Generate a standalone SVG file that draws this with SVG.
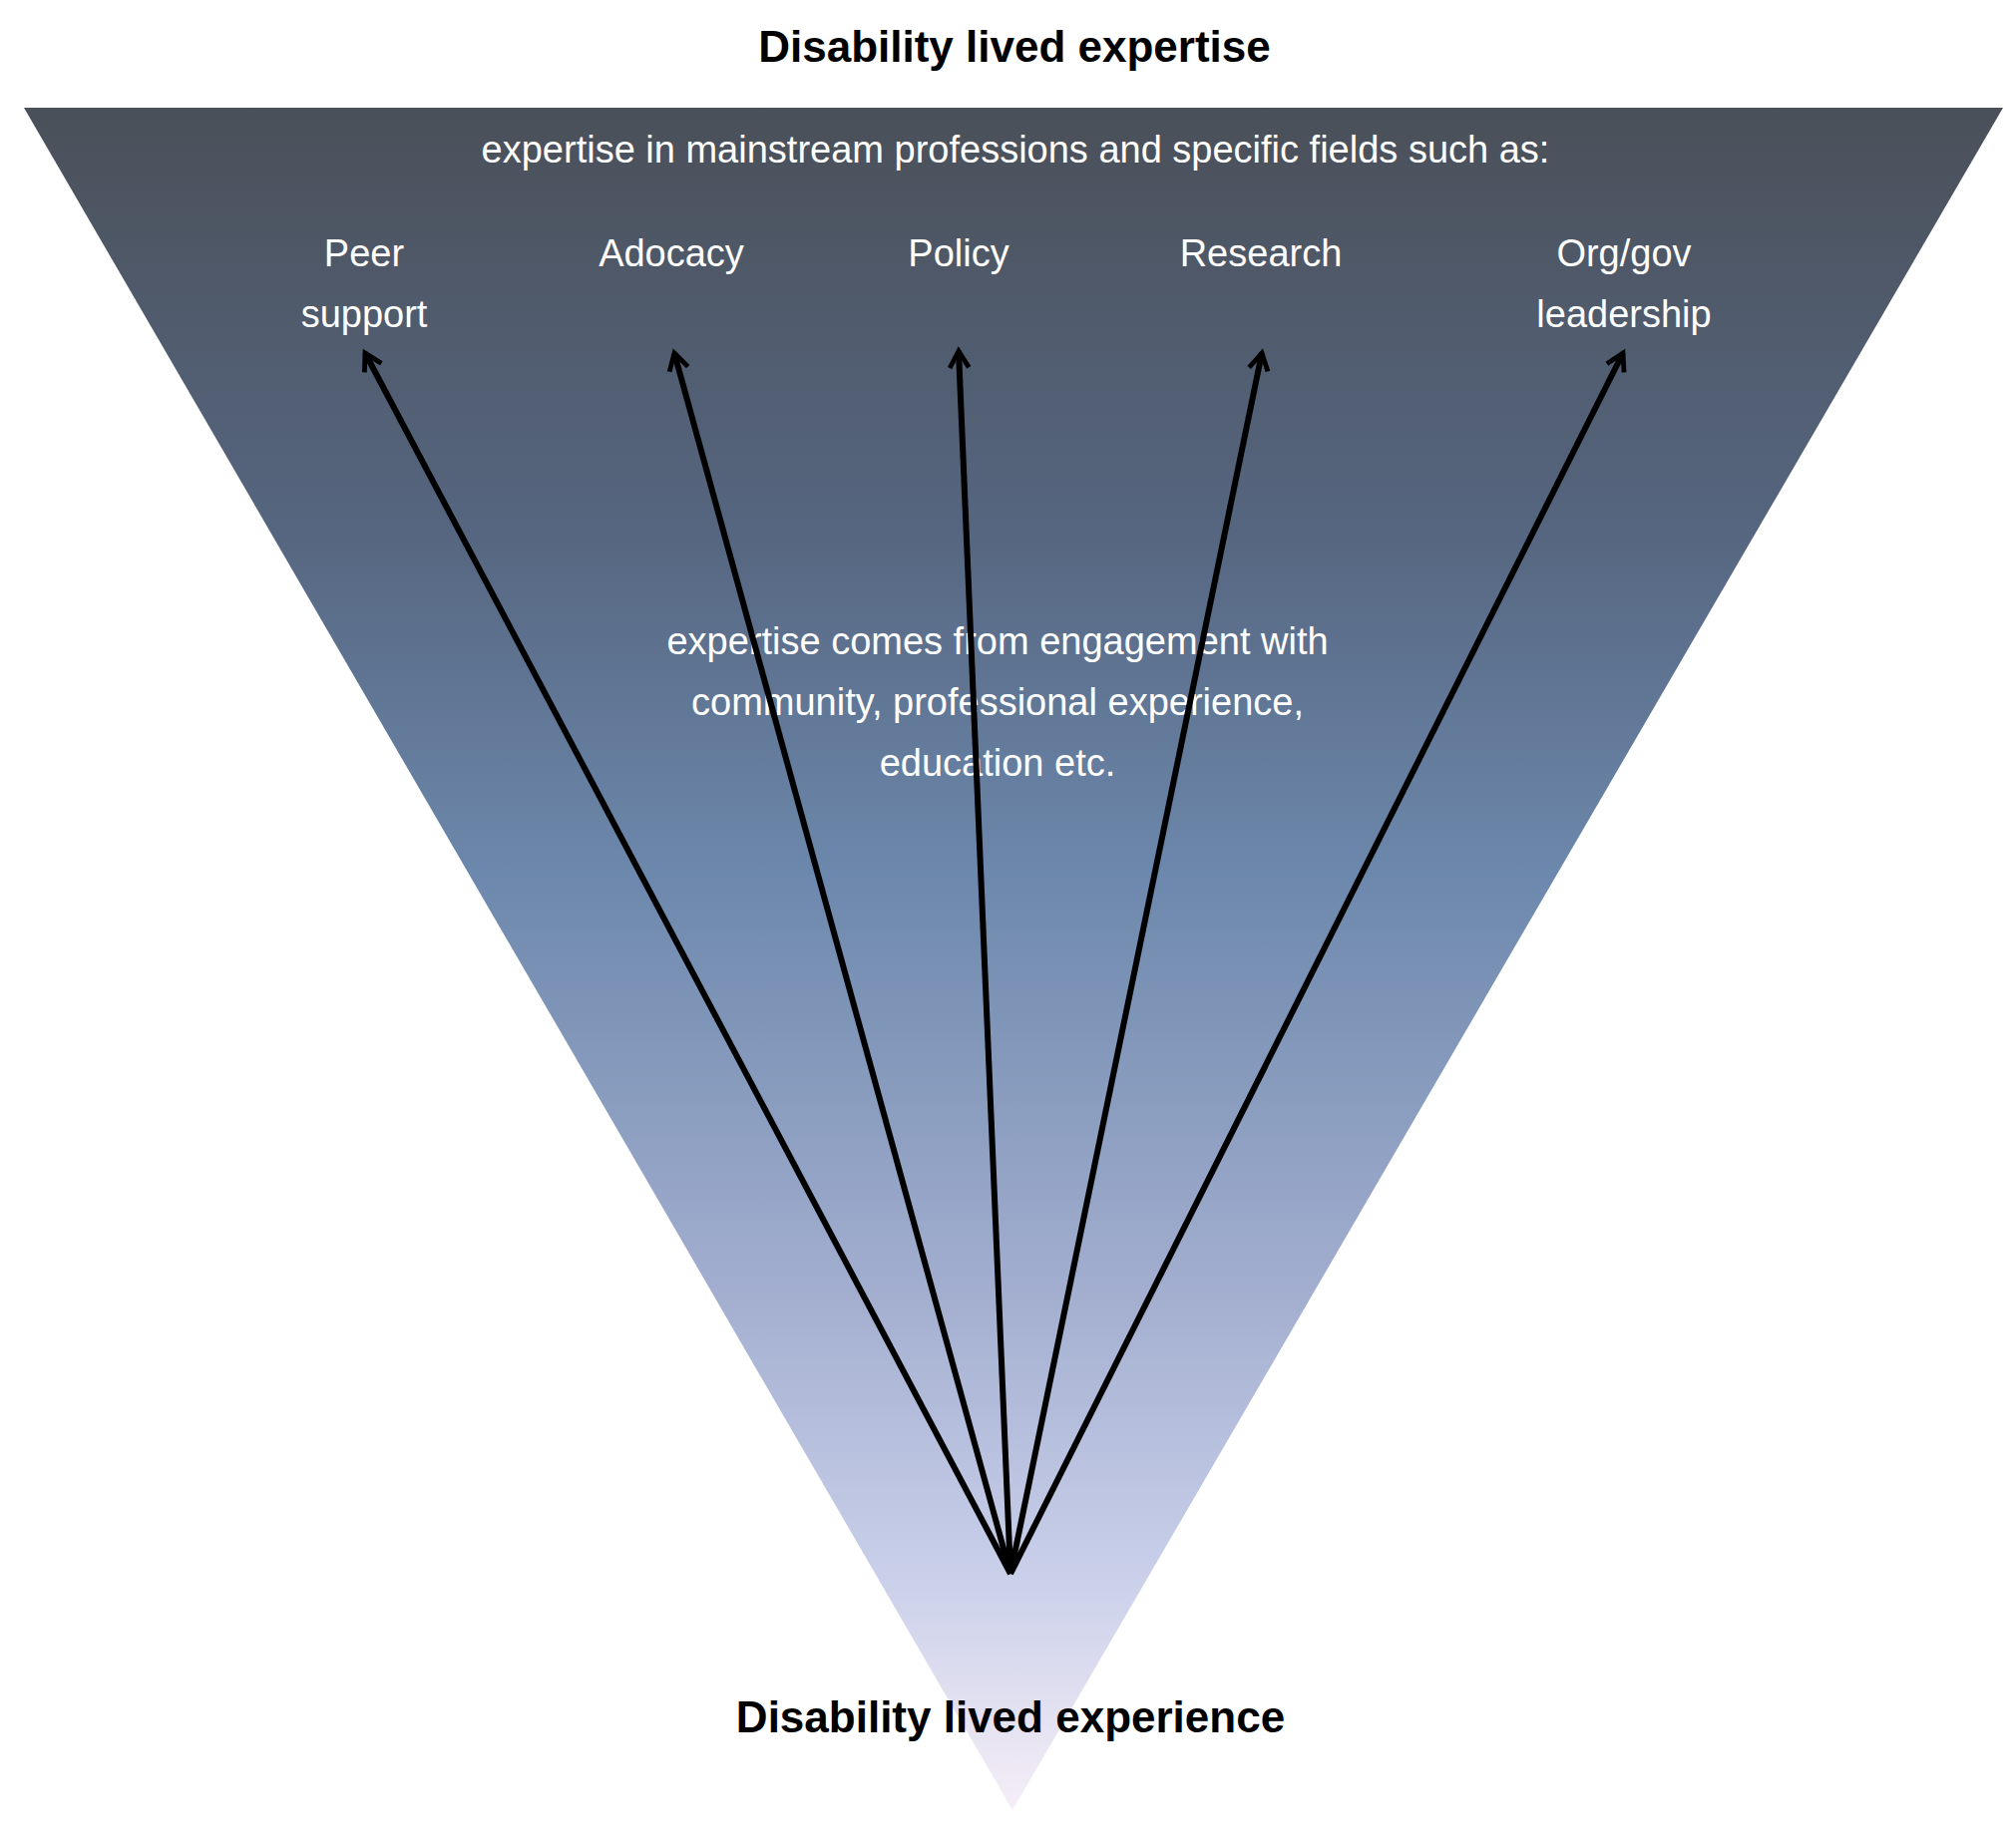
<svg xmlns="http://www.w3.org/2000/svg" width="2020" height="1853" viewBox="0 0 2020 1853">
<style>
.t{font-family:"Liberation Sans",Arial,sans-serif;font-size:44px;font-weight:bold;fill:#000;text-anchor:middle}
.w{font-family:"Liberation Sans",Arial,sans-serif;font-size:38px;fill:#fff;text-anchor:middle}
.c{stroke:#000;stroke-width:6;fill:none;marker-end:url(#ah)}
</style>
<defs>
<linearGradient id="g" x1="0" y1="108" x2="0" y2="1815" gradientUnits="userSpaceOnUse">
<stop offset="0" stop-color="#4a5059"/>
<stop offset="0.25" stop-color="#566680"/>
<stop offset="0.45" stop-color="#6c88ac"/>
<stop offset="0.7" stop-color="#a4afd0"/>
<stop offset="0.85" stop-color="#c6cde8"/>
<stop offset="1" stop-color="#f5eef7"/>
</linearGradient>
<marker id="ah" viewBox="0 0 10 10" refX="8" refY="5" markerWidth="4" markerHeight="4" orient="auto" markerUnits="strokeWidth">
<path d="M1,1 L8,5 L1,9" fill="none" stroke="#000" stroke-width="2"/>
</marker>
</defs>
<g id="funnel"><polygon points="24,108 2008,108 1015,1815" fill="url(#g)"/></g>
<g id="title-top"><text class="t" x="1017" y="62">Disability lived expertise</text></g>
<g id="title-bottom"><text class="t" x="1013" y="1737">Disability lived experience</text></g>
<g id="intro"><text class="w" x="1018" y="163">expertise in mainstream professions and specific fields such as:</text></g>
<g id="peer"><text class="w" x="365" y="267">Peer</text><text class="w" x="365" y="328">support</text></g>
<g id="advocacy"><text class="w" x="673" y="267">Adocacy</text></g>
<g id="policy"><text class="w" x="961" y="267">Policy</text></g>
<g id="research"><text class="w" x="1264" y="267">Research</text></g>
<g id="leadership"><text class="w" x="1628" y="267">Org/gov</text><text class="w" x="1628" y="328">leadership</text></g>
<g id="middle"><text class="w" x="1000" y="656">expertise comes from engagement with</text><text class="w" x="1000" y="717">community, professional experience,</text><text class="w" x="1000" y="778">education etc.</text></g>
<g id="connectors">
<line class="c" x1="1013" y1="1578" x2="366" y2="354"/>
<line class="c" x1="1013" y1="1578" x2="676" y2="354"/>
<line class="c" x1="1013" y1="1578" x2="961" y2="352"/>
<line class="c" x1="1013" y1="1578" x2="1265" y2="354"/>
<line class="c" x1="1013" y1="1578" x2="1627" y2="354"/>
</g>
</svg>
